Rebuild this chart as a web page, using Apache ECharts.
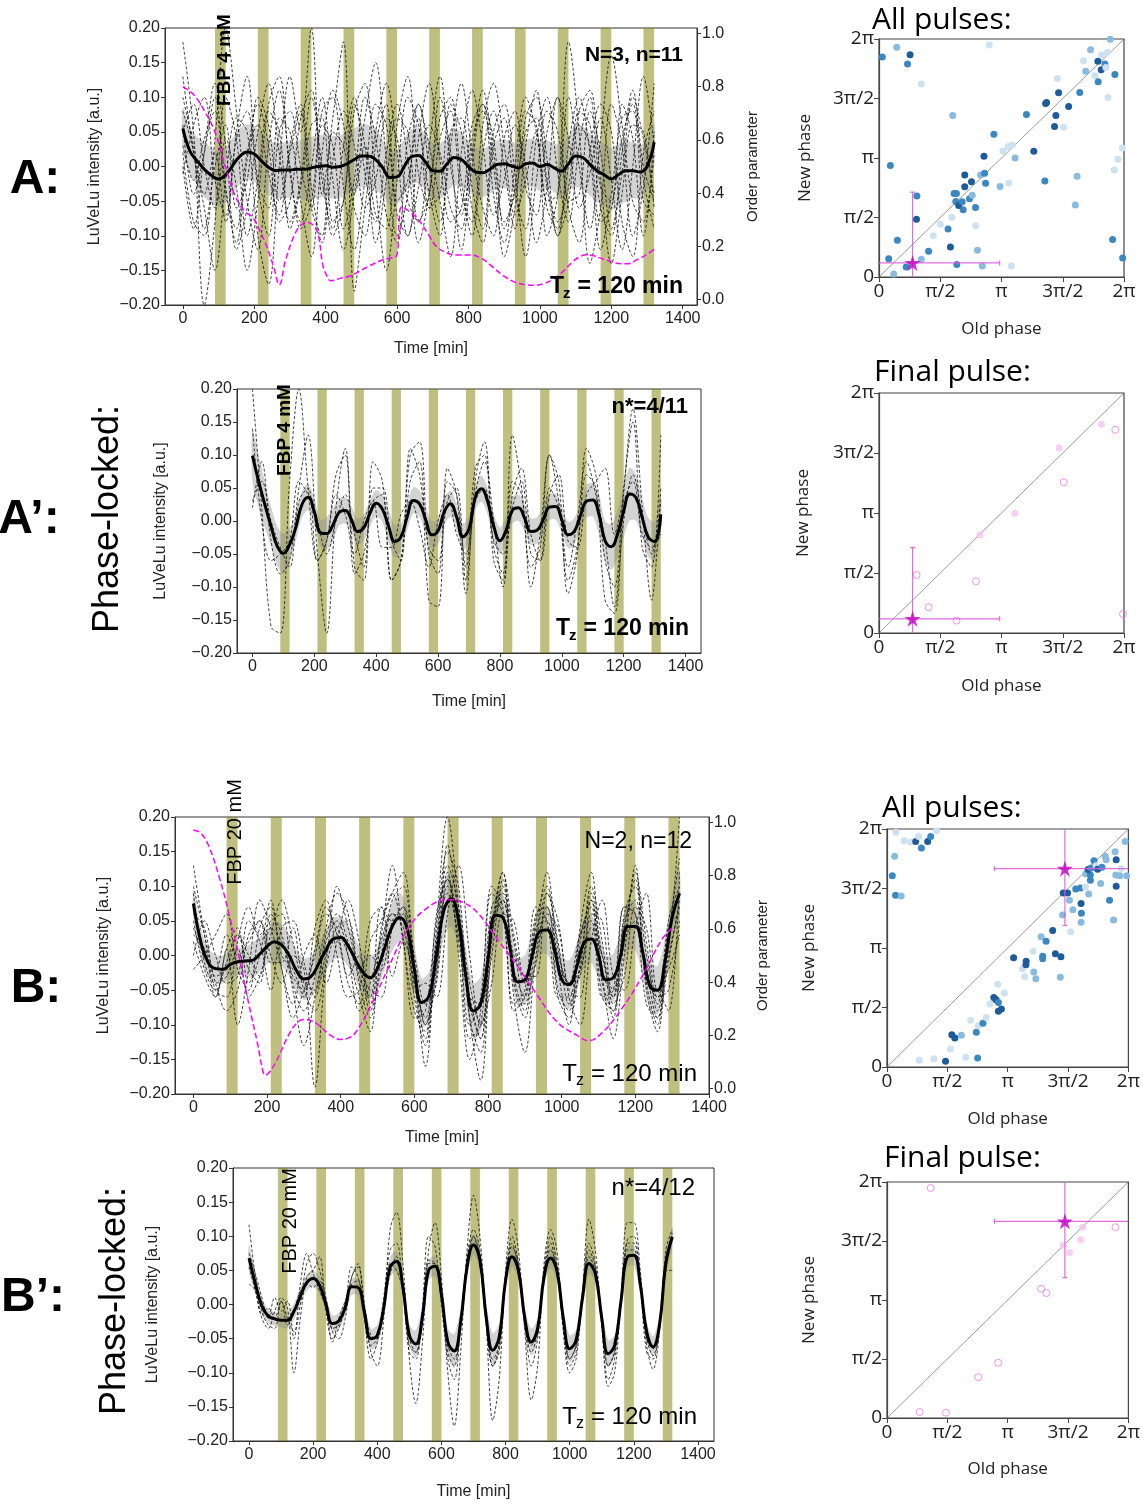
<!DOCTYPE html>
<html><head><meta charset="utf-8">
<script src="https://cdn.jsdelivr.net/npm/echarts@6/dist/echarts.min.js"></script>
<style>html,body{margin:0;padding:0;background:#fff}#c{width:1143px;height:1505px}</style>
</head><body><div id="c"></div>
<script>
// ---------------- DATA ----------------
const T20 = [0,20,40,60,80,100,120,140,160,180,
  200,220,240,260,280,300,320,340,360,380,
  400,420,440,460,480,500,520,540,560,580,
  600,620,640,660,680,700,720,740,760,780,
  800,820,840,860,880,900,920,940,960,980,
  1000,1020,1040,1060,1080,1100,1120,1140,1160,1180,
  1200,1220,1240,1260,1280,1300,1320];
const T30 = [0,30,60,90,120,150,180,210,240,270,
  300,330,360,390,420,450,480,510,540,570,
  600,630,660,690,720,750,780,810,840,870,
  900,930,960,990,1020,1050,1080,1110,1140,1170,
  1200,1230,1260,1290,1320];
const pulseStarts = [90,210,330,450,570,690,810,930,1050,1170,1290];
const pulseWidth = 30;
const xTicks = [0,200,400,600,800,1000,1200,1400];
const orderTicks = [0,0.2,0.4,0.6,0.8,1.0];
const phaseTickLabels = ['0','π/2','π','3π/2','2π'];

// Panel A
const meanA = [0.055,0.022,0.008,-0.004,-0.013,-0.018,-0.012,0.002,0.015,0.021,
  0.018,0.008,-0.001,-0.006,-0.005,-0.005,-0.004,-0.004,-0.002,0.000,
  0.001,-0.001,0.000,0.004,0.010,0.015,0.015,0.010,-0.002,-0.016,
  -0.015,0.000,0.014,0.016,0.006,-0.006,-0.007,0.004,0.013,0.010,
  0.000,-0.008,-0.009,-0.004,0.003,0.004,0.001,-0.002,0.004,0.005,
  0.000,0.003,-0.002,-0.007,0.004,0.015,0.013,0.003,-0.006,-0.012,
  -0.018,-0.012,-0.006,-0.006,-0.008,0.000,0.035];
const sdA = [0.030,0.032,0.035,0.040,0.040,0.040,0.040,0.040,0.040,0.040,
  0.040,0.040,0.040,0.040,0.040,0.040,0.040,0.045,0.045,0.045,
  0.045,0.045,0.045,0.045,0.045,0.045,0.045,0.045,0.040,0.040,
  0.040,0.040,0.040,0.040,0.040,0.040,0.040,0.040,0.040,0.040,
  0.035,0.035,0.035,0.035,0.035,0.035,0.035,0.035,0.035,0.035,
  0.035,0.035,0.035,0.040,0.040,0.045,0.045,0.045,0.045,0.045,
  0.045,0.045,0.045,0.040,0.040,0.035,0.030];
const orderA = [[0,0.80],[30,0.77],[60,0.71],[90,0.63],[110,0.54],[125,0.475],[150,0.38],[175,0.33],[195,0.31],[215,0.26],[235,0.20],[255,0.12],[270,0.056],[288,0.15],[315,0.25],[335,0.285],[351,0.29],[368,0.275],[380,0.24],[392,0.13],[405,0.085],[414,0.071],[440,0.08],[470,0.09],[520,0.125],[560,0.15],[600,0.17],[606,0.30],[613,0.348],[635,0.33],[660,0.30],[690,0.24],[710,0.20],[740,0.175],[770,0.168],[805,0.168],[840,0.152],[870,0.12],[900,0.088],[930,0.066],[960,0.056],[985,0.054],[1010,0.06],[1035,0.075],[1060,0.10],[1090,0.14],[1110,0.16],[1130,0.169],[1150,0.165],[1170,0.156],[1195,0.145],[1215,0.137],[1245,0.135],[1275,0.152],[1300,0.17],[1320,0.19]];
const trA1 = [0.18,0.05,-0.20,-0.08,0.10,0.04,-0.10,-0.02,0.08,0.05,
  -0.09,-0.03,0.06,0.07,-0.08,-0.05,0.09,0.03,-0.11,-0.02,
  0.07,0.05,-0.08,-0.04,0.10,0.02,-0.12,0.00,0.09,0.04,
  -0.09,-0.03,0.08,0.06,-0.10,-0.04,0.18,0.05,-0.14,-0.06,
  0.09,0.03,-0.10,-0.03,0.12];
const trA2 = [0.02,-0.08,-0.10,0.04,0.20,0.08,-0.05,-0.12,0.03,0.11,
  0.00,-0.09,-0.05,0.08,0.10,-0.03,-0.12,-0.02,0.09,0.06,
  -0.07,-0.10,0.04,0.12,0.01,-0.08,-0.06,0.06,0.09,-0.04,
  -0.11,0.00,0.10,0.05,-0.06,-0.09,0.03,0.10,0.02,-0.12,
  -0.04,0.07,0.08,-0.05,-0.07];
const trA3 = [0.13,0.02,-0.06,-0.15,-0.02,0.07,0.05,-0.10,-0.17,0.00,
  0.13,0.05,0.20,-0.04,0.07,0.18,-0.18,-0.06,0.05,0.12,
  0.02,-0.10,-0.03,0.06,0.02,-0.06,-0.09,0.04,0.08,0.00,
  -0.13,-0.06,0.07,0.10,0.01,-0.10,-0.05,0.08,0.11,-0.02,
  -0.14,-0.04,0.06,0.05,-0.06];
const trA4 = [0.05,0.09,0.00,-0.06,0.04,-0.03,-0.15,-0.05,0.09,0.13,
  -0.01,-0.08,0.00,0.10,-0.02,-0.12,-0.04,0.07,0.15,0.01,
  -0.10,-0.04,0.09,0.03,-0.05,-0.13,0.02,0.11,0.03,-0.07,
  -0.02,0.06,0.00,-0.11,-0.03,0.10,0.04,-0.06,-0.01,0.07,
  -0.02,-0.12,0.00,0.13,0.03];
const trA5 = [0.03,-0.02,0.04,0.08,-0.04,-0.09,0.02,0.06,-0.01,-0.07,
  0.03,0.09,-0.03,-0.11,0.01,0.08,0.03,-0.06,-0.02,0.07,
  0.04,-0.05,-0.08,0.03,0.13,0.00,-0.07,0.02,0.11,0.02,
  -0.08,-0.04,0.05,0.07,-0.03,-0.10,0.00,0.06,0.03,-0.08,
  -0.06,0.04,0.09,-0.02,-0.09];
const trA6 = [0.00,-0.09,0.02,0.12,0.03,-0.12,-0.06,0.05,0.12,0.02,
  -0.08,-0.02,0.10,0.00,-0.10,-0.05,0.08,0.12,-0.03,-0.15,
  -0.02,0.10,0.06,-0.04,-0.10,0.05,0.07,-0.03,-0.09,0.05,
  0.09,-0.01,-0.13,-0.02,0.08,0.05,-0.06,-0.11,0.02,0.09,
  0.05,-0.08,-0.13,0.02,0.08];
const trA7 = [0.10,0.03,-0.04,0.02,-0.08,0.05,0.13,-0.02,-0.06,0.07,
  0.05,-0.05,-0.13,0.02,0.11,0.06,-0.04,0.03,-0.07,-0.09,
  0.06,0.13,-0.01,-0.06,0.04,0.08,-0.04,-0.08,0.06,0.12,
  0.03,-0.07,-0.02,0.05,-0.05,-0.04,0.10,0.00,-0.09,0.04,
  0.16,0.06,-0.05,-0.08,0.05];
const trA8 = [0.06,-0.04,0.02,0.10,-0.03,-0.11,0.01,0.09,0.03,-0.08,
  -0.05,0.07,0.11,-0.02,-0.09,0.03,0.10,-0.01,-0.08,0.02,
  0.09,0.01,-0.11,-0.04,0.07,0.10,-0.02,-0.10,0.02,0.08,
  0.00,-0.09,0.03,0.11,-0.02,-0.08,-0.03,0.08,0.06,-0.06,
  -0.10,0.02,0.11,0.00,-0.05];
const trA9 = [-0.01,0.06,0.10,-0.02,-0.07,0.04,0.08,-0.03,-0.10,0.05,
  0.08,0.00,-0.06,0.06,0.03,-0.09,-0.02,0.10,0.04,-0.07,
  -0.11,0.04,0.09,0.00,-0.08,0.03,0.12,0.02,-0.06,-0.10,
  0.04,0.08,-0.03,-0.07,0.05,0.10,-0.05,-0.04,0.08,0.02,
  -0.09,-0.01,0.10,0.04,-0.04];
const trA10 = [0.08,0.02,-0.09,0.00,0.06,-0.06,-0.02,0.10,0.06,-0.05,
  0.02,0.08,-0.06,-0.10,0.05,0.03,-0.06,-0.10,0.03,0.09,
  -0.05,-0.02,0.07,-0.06,-0.04,0.09,0.05,-0.06,-0.11,0.03,
  0.07,-0.04,-0.09,0.04,0.10,-0.01,-0.08,0.03,0.10,-0.03,
  -0.05,0.09,0.04,-0.10,0.02];

// Panel A'
const meanA1 = [0.099,0.060,0.025,-0.008,-0.038,-0.049,-0.036,-0.010,0.025,0.036,
  0.014,-0.018,-0.019,-0.006,0.013,0.016,0.002,-0.016,-0.010,0.012,
  0.027,0.018,-0.008,-0.031,-0.024,0.006,0.031,0.026,0.002,-0.021,
  -0.015,0.014,0.026,0.006,-0.024,-0.012,0.035,0.049,0.030,-0.008,
  -0.030,-0.014,0.016,0.020,0.004,-0.016,-0.014,0.002,0.021,0.022,
  0.002,-0.021,-0.016,0.008,0.030,0.032,0.010,-0.030,-0.039,-0.020,
  0.015,0.041,0.035,0.005,-0.025,-0.031,0.010];
const sdA1 = [0.040,0.040,0.035,0.030,0.030,0.030,0.025,0.020,0.020,0.020,
  0.020,0.020,0.025,0.025,0.020,0.020,0.020,0.020,0.020,0.020,
  0.020,0.020,0.025,0.025,0.020,0.020,0.020,0.020,0.020,0.020,
  0.020,0.020,0.020,0.020,0.020,0.020,0.020,0.020,0.020,0.020,
  0.020,0.020,0.020,0.020,0.020,0.020,0.020,0.020,0.020,0.020,
  0.020,0.020,0.020,0.020,0.025,0.025,0.030,0.030,0.035,0.035,
  0.040,0.040,0.035,0.030,0.030,0.030,0.030];
const trP1 = [0.20,0.02,-0.16,-0.17,0.06,0.20,0.05,-0.06,-0.03,0.07,
  0.10,-0.08,-0.05,0.03,0.04,-0.09,-0.06,0.10,0.12,-0.05,
  -0.08,0.06,0.04,-0.07,0.08,0.10,-0.06,-0.09,0.06,0.04,
  -0.10,-0.02,0.10,0.03,-0.09,-0.04,0.07,0.05,-0.12,-0.14,
  0.04,0.17,0.02,-0.12,0.05];
const trP2 = [0.02,0.09,-0.03,-0.08,-0.06,0.05,0.13,-0.05,-0.17,0.02,
  0.11,-0.07,-0.09,0.09,0.06,-0.09,-0.06,0.06,0.09,-0.12,
  -0.13,0.08,0.04,-0.11,0.06,0.12,-0.04,-0.08,0.13,0.05,
  -0.07,-0.04,0.10,0.06,-0.11,-0.05,0.11,0.07,-0.06,-0.10,
  0.05,0.15,-0.04,-0.07,0.13];
const trP3 = [0.14,0.00,-0.06,-0.05,-0.03,0.06,0.04,0.00,-0.05,0.00,
  0.04,-0.02,-0.07,0.05,0.05,-0.03,-0.06,0.11,0.07,-0.04,
  -0.06,0.03,0.05,-0.09,0.04,0.09,0.00,-0.10,0.04,0.08,
  -0.02,-0.06,0.05,0.02,-0.07,0.00,0.09,0.04,-0.03,-0.13,
  0.00,0.07,0.01,-0.05,0.03];
const trP4 = [0.03,0.06,0.00,-0.04,-0.07,0.03,0.05,-0.06,-0.03,0.04,
  0.01,-0.05,0.00,0.03,-0.04,-0.04,0.01,0.03,-0.01,-0.07,
  0.00,0.04,-0.02,-0.05,0.03,0.05,-0.03,-0.05,0.02,0.06,
  -0.05,-0.06,0.04,0.07,-0.03,-0.04,0.04,0.06,0.08,-0.02,
  0.03,0.06,-0.02,-0.04,-0.02];

// Panel B
const meanB = [0.075,0.020,-0.010,-0.019,-0.020,-0.013,-0.009,-0.008,-0.007,0.002,
  0.013,0.020,0.015,0.000,-0.022,-0.034,-0.030,-0.012,0.008,0.024,
  0.026,0.014,-0.006,-0.024,-0.032,-0.018,0.012,0.042,0.055,0.040,
  -0.020,-0.068,-0.058,0.000,0.065,0.082,0.050,-0.030,-0.080,-0.070,
  -0.005,0.058,0.055,0.010,-0.038,-0.035,0.000,0.035,0.037,0.010,
  -0.035,-0.042,-0.018,0.018,0.024,0.000,-0.035,-0.032,0.000,0.042,
  0.042,0.005,-0.045,-0.050,-0.010,0.055,0.090];
const sdB = [0.020,0.020,0.020,0.020,0.020,0.020,0.020,0.020,0.025,0.025,
  0.025,0.030,0.030,0.030,0.030,0.030,0.030,0.030,0.030,0.030,
  0.030,0.030,0.030,0.030,0.030,0.030,0.030,0.035,0.035,0.035,
  0.035,0.035,0.035,0.035,0.040,0.040,0.040,0.040,0.040,0.040,
  0.040,0.035,0.035,0.035,0.035,0.035,0.035,0.035,0.035,0.035,
  0.035,0.035,0.035,0.035,0.035,0.035,0.035,0.035,0.035,0.035,
  0.035,0.035,0.035,0.035,0.035,0.035,0.035];
const orderB = [[0,0.97],[20,0.96],[42,0.91],[69,0.80],[96,0.66],[123,0.50],[150,0.32],[174,0.17],[188,0.07],[195,0.05],[205,0.06],[224,0.10],[258,0.20],[280,0.245],[299,0.26],[320,0.255],[339,0.24],[373,0.20],[400,0.185],[420,0.19],[440,0.21],[481,0.31],[528,0.45],[582,0.60],[636,0.68],[691,0.71],[731,0.70],[772,0.66],[826,0.56],[880,0.46],[934,0.35],[988,0.25],[1042,0.20],[1072,0.18],[1110,0.21],[1163,0.30],[1218,0.42],[1272,0.56],[1305,0.61]];
const trB1 = [0.13,0.03,-0.05,-0.06,0.02,0.07,0.03,0.05,0.06,-0.04,
  -0.08,-0.03,0.04,0.09,0.06,-0.04,-0.09,0.00,0.08,0.10,
  -0.03,-0.12,0.02,0.15,0.10,-0.09,-0.14,0.04,0.12,-0.03,
  -0.08,0.05,0.10,-0.02,-0.10,0.02,0.08,-0.04,-0.08,0.06,
  0.10,-0.05,-0.11,0.03,0.14];
const trB2 = [0.02,-0.03,-0.06,0.01,-0.10,-0.02,0.08,0.04,-0.02,-0.09,
  -0.05,0.00,0.06,0.04,0.00,-0.06,-0.11,0.04,0.09,0.12,
  -0.01,-0.10,-0.03,0.16,0.05,-0.12,-0.10,0.07,0.09,-0.02,
  -0.06,0.06,0.07,-0.05,-0.08,0.04,0.12,-0.02,-0.06,0.07,
  0.06,-0.07,-0.09,0.05,0.10];
const trB3 = [0.06,0.04,-0.03,-0.02,0.03,-0.02,-0.04,0.06,0.03,-0.05,
  -0.13,-0.06,0.02,0.05,0.00,-0.08,-0.04,0.03,0.13,0.02,
  -0.08,-0.11,0.06,0.11,0.00,-0.15,-0.08,0.10,0.07,-0.08,
  -0.06,0.04,0.05,-0.06,-0.09,-0.01,0.09,0.00,-0.06,0.04,
  0.11,0.00,-0.07,0.04,0.06];
const trB4 = [-0.02,0.00,0.03,0.06,-0.02,-0.05,0.04,0.07,0.00,-0.02,
  -0.06,0.04,0.08,0.00,-0.06,-0.05,0.05,0.07,-0.03,0.02,
  -0.04,-0.16,0.04,0.20,0.07,-0.09,-0.18,0.02,0.12,0.03,
  -0.04,0.03,0.12,0.01,-0.04,-0.03,0.08,-0.03,-0.12,0.00,
  0.13,-0.04,-0.05,-0.08,0.12];
const trB5 = [0.09,-0.01,-0.04,-0.03,0.01,-0.06,-0.03,0.03,0.08,0.02,
  -0.05,-0.08,-0.01,0.10,0.04,-0.02,-0.05,-0.06,0.04,0.07,
  0.00,-0.07,-0.04,0.12,0.02,-0.06,-0.07,0.03,0.11,-0.06,
  -0.14,0.00,0.07,0.00,-0.04,0.03,0.05,-0.06,-0.05,0.07,
  0.06,-0.02,-0.09,-0.01,0.08];
const trB6 = [0.04,0.00,-0.02,0.03,0.00,0.02,0.05,0.00,-0.04,0.00,
  -0.02,-0.19,-0.02,0.03,-0.03,0.00,-0.07,0.02,0.06,0.04,
  -0.04,-0.09,0.02,0.09,0.03,-0.06,-0.12,0.03,0.08,0.00,
  -0.03,0.02,0.04,-0.01,-0.04,-0.02,0.04,0.00,-0.05,0.02,
  0.05,-0.02,-0.06,0.01,0.20];
const trB7 = [0.10,0.03,-0.04,-0.08,-0.05,0.03,0.05,-0.01,-0.01,0.04,
  -0.04,-0.05,0.03,0.06,0.02,-0.02,0.00,-0.02,0.05,0.07,
  -0.05,-0.04,-0.06,0.06,0.13,0.00,-0.10,-0.04,0.06,0.05,
  -0.03,-0.03,0.09,0.05,-0.06,-0.10,0.02,0.08,-0.03,-0.05,
  0.04,0.09,-0.05,-0.02,0.03];
const trB8 = [0.05,-0.02,-0.05,-0.01,0.03,0.00,-0.03,0.04,0.02,-0.03,
  -0.05,0.01,0.07,0.03,-0.04,-0.07,0.02,0.05,0.09,0.02,
  -0.09,-0.08,0.05,0.11,0.04,-0.10,-0.06,0.09,0.06,-0.07,
  -0.05,0.07,0.05,-0.06,-0.06,0.03,0.07,-0.06,-0.08,0.05,
  0.08,-0.04,-0.10,0.03,0.09];
const trB9 = [0.00,0.05,0.00,-0.04,-0.03,0.05,0.02,-0.05,0.04,0.05,
  -0.01,-0.06,0.00,0.04,0.05,-0.03,-0.06,0.07,0.05,0.06,
  -0.06,-0.13,0.01,0.13,0.07,-0.07,-0.12,0.05,0.08,-0.04,
  -0.09,0.02,0.09,0.02,-0.07,-0.02,0.10,0.02,-0.09,0.02,
  0.12,0.02,-0.08,0.00,0.07];
const trB10 = [0.03,0.01,-0.06,0.01,0.04,-0.04,0.00,0.08,-0.02,-0.07,
  0.00,0.03,-0.04,0.02,0.08,0.02,-0.08,-0.02,0.06,0.05,
  -0.02,-0.10,-0.02,0.10,0.06,-0.04,-0.10,0.00,0.10,0.02,
  -0.07,-0.01,0.06,0.04,-0.05,-0.06,0.06,0.05,-0.07,-0.03,
  0.07,0.04,-0.06,-0.05,0.05];

// Panel B'
const meanB1 = [0.068,0.030,-0.002,-0.017,-0.021,-0.023,-0.023,-0.010,0.012,0.032,
  0.038,0.028,0.000,-0.028,-0.024,-0.004,0.026,0.025,-0.012,-0.050,
  -0.045,-0.005,0.055,0.063,0.025,-0.045,-0.058,-0.020,0.050,0.056,
  0.015,-0.055,-0.068,-0.025,0.055,0.087,0.065,-0.020,-0.067,-0.048,
  0.035,0.070,0.050,-0.020,-0.055,-0.035,0.040,0.068,0.050,-0.020,
  -0.065,-0.052,0.010,0.060,0.045,-0.020,-0.072,-0.060,0.005,0.070,
  0.072,0.030,-0.040,-0.062,-0.030,0.060,0.099];
const sdB1 = [0.020,0.015,0.012,0.010,0.010,0.010,0.012,0.012,0.012,0.012,
  0.012,0.012,0.012,0.012,0.012,0.012,0.012,0.012,0.012,0.015,
  0.015,0.015,0.015,0.015,0.015,0.015,0.020,0.020,0.015,0.015,
  0.015,0.020,0.025,0.020,0.015,0.015,0.015,0.020,0.025,0.020,
  0.015,0.015,0.015,0.015,0.020,0.015,0.015,0.015,0.015,0.015,
  0.020,0.015,0.015,0.015,0.015,0.015,0.020,0.015,0.015,0.015,
  0.015,0.015,0.015,0.015,0.015,0.015,0.015];
const trQ1 = [0.117,0.040,-0.010,-0.030,-0.035,0.005,-0.020,-0.040,0.000,0.060,
  0.075,0.050,0.010,-0.040,-0.050,-0.020,0.040,0.055,0.000,-0.070,
  -0.090,-0.020,0.110,0.135,0.060,-0.080,-0.145,-0.060,0.080,0.120,
  0.040,-0.100,-0.178,-0.070,0.080,0.160,0.100,-0.030,-0.170,-0.110,
  0.050,0.125,0.080,-0.040,-0.140,-0.090,0.060,0.110,0.080,-0.040,
  -0.100,-0.080,0.020,0.125,0.080,-0.030,-0.120,-0.100,0.010,0.120,
  0.120,0.050,-0.060,-0.095,-0.040,0.080,0.110];
const trQ2 = [0.030,0.020,-0.020,-0.035,-0.010,0.010,-0.005,-0.100,-0.020,0.040,
  0.050,0.070,-0.010,-0.050,-0.035,0.000,0.040,0.060,-0.020,-0.080,
  -0.055,0.010,0.080,0.090,0.020,-0.070,-0.080,-0.010,0.100,0.085,
  0.000,-0.080,-0.110,-0.030,0.070,0.110,0.080,-0.030,-0.090,-0.070,
  0.040,0.100,0.060,-0.030,-0.090,-0.050,0.050,0.100,0.060,-0.030,
  -0.090,-0.070,0.020,0.090,0.060,-0.030,-0.110,-0.080,0.010,0.095,
  0.100,0.030,-0.070,-0.080,-0.030,0.070,0.100];
const trQ3 = [0.075,0.045,0.010,-0.020,0.010,-0.010,0.005,-0.050,0.030,0.075,
  0.045,0.020,-0.005,-0.055,-0.020,0.005,0.030,0.035,-0.020,-0.060,
  -0.050,0.000,0.045,0.070,0.020,-0.060,-0.070,-0.030,0.060,0.060,
  0.020,-0.070,-0.090,-0.030,0.050,0.100,0.060,-0.030,-0.090,-0.060,
  0.040,0.090,0.050,-0.030,-0.070,-0.040,0.040,0.090,0.050,-0.030,
  -0.080,-0.060,0.010,0.080,0.055,-0.020,-0.090,-0.070,0.000,0.090,
  0.090,0.030,-0.050,-0.075,-0.030,0.060,0.105];
const trQ4 = [0.055,0.020,-0.015,-0.005,-0.020,0.005,-0.030,-0.010,0.020,0.030,
  0.025,0.035,0.005,-0.035,-0.030,-0.005,0.055,0.040,-0.005,-0.045,
  -0.050,0.000,0.060,0.050,0.020,-0.050,-0.070,-0.020,0.065,0.060,
  0.010,-0.060,-0.080,-0.030,0.065,0.100,0.070,-0.020,-0.080,-0.060,
  0.030,0.085,0.060,-0.020,-0.060,-0.040,0.050,0.080,0.050,-0.020,
  -0.080,-0.060,0.010,0.070,0.050,-0.020,-0.090,-0.070,0.010,0.080,
  0.080,0.030,-0.050,-0.065,-0.030,0.050,0.050];

// Phase response (units of π): [oldPhase, newPhase, shade 0=dark..3=very light]
const allPulsesA = [
  [0.027,1.848,1],[0.145,1.930,2],[0.254,1.868,0],[0.233,1.789,1],[0.345,1.621,3],[0.900,1.949,3],[0.602,1.357,2],[0.093,0.938,1],[0.309,0.680,1],[0.306,0.486,0],
  [0.150,0.309,1],[0.079,0.154,1],[0.120,0.025,2],[0.222,0.084,1],[0.345,0.149,2],[0.405,0.216,1],[0.443,0.346,3],[0.501,0.444,3],[0.564,0.404,1],[0.583,0.253,0],
  [0.596,0.500,3],[0.635,0.104,1],[0.613,0.702,1],[0.632,0.702,1],[0.627,0.635,1],[0.651,0.601,0],[0.679,0.632,1],[0.687,0.565,1],[0.700,0.758,0],[0.700,0.857,0],
  [0.755,0.801,0],[0.739,0.657,1],[0.761,0.688,2],[0.788,0.584,1],[0.790,0.430,3],[0.804,0.225,2],[0.843,0.093,2],[0.829,0.857,2],[0.862,0.871,1],[0.870,0.787,1],
  [0.857,1.014,0],[0.938,1.199,1],[0.988,0.761,2],[1.012,1.059,3],[1.056,1.096,3],[1.089,1.110,3],[1.111,1.000,2],[1.059,0.789,3],[1.081,0.093,3],[1.204,1.365,1],
  [1.264,1.056,0],[1.354,0.806,1],[1.360,1.458,0],[1.368,1.466,0],[1.444,1.357,0],[1.433,1.264,0],[1.466,1.548,0],[1.507,1.258,3],[1.548,1.433,0],[1.455,1.669,3],
  [1.617,0.846,2],[1.603,0.604,2],[1.639,1.551,1],[1.669,1.817,3],[1.688,1.728,2],[1.727,1.910,2],[1.762,1.691,3],[1.787,1.812,0],[1.789,1.640,1],[1.814,1.742,0],
  [1.817,1.865,3],[1.844,1.789,1],[1.852,1.761,3],[1.863,1.888,3],[1.869,1.508,3],[1.888,1.997,2],[1.926,1.702,1],[1.907,0.315,1],[1.951,0.989,3],[1.921,0.899,3],
  [1.986,1.084,3],[1.989,0.160,1]];
const allPulsesB = [
  [0.074,1.972,3],[0.142,1.902,3],[0.197,1.891,3],[0.238,1.896,0],[0.263,1.938,3],[0.285,1.840,1],[0.337,1.896,0],[0.362,1.938,1],[0.411,1.986,3],[0.063,1.770,2],
  [0.044,1.608,1],[0.071,1.443,1],[0.118,1.437,2],[0.268,0.056,3],[0.389,0.070,3],[0.485,0.048,0],[0.526,0.151,3],[0.537,0.272,0],[0.562,0.244,0],[0.616,0.266,2],
  [0.652,0.081,3],[0.693,0.392,3],[0.740,0.291,1],[0.751,0.076,1],[0.756,0.347,3],[0.795,0.367,1],[0.822,0.417,3],[0.855,0.529,3],[0.885,0.585,0],[0.904,0.566,0],
  [0.918,0.695,3],[0.923,0.543,1],[0.923,0.468,0],[0.948,0.487,0],[0.973,0.622,3],[1.049,0.919,0],[1.121,0.826,3],[1.142,0.759,3],[1.151,0.860,0],[1.153,0.888,0],
  [1.211,0.972,3],[1.216,0.798,2],[1.233,0.742,2],[1.277,1.095,2],[1.290,0.910,1],[1.290,0.930,1],[1.318,1.056,1],[1.373,1.148,0],[1.395,0.952,0],[1.436,0.754,2],
  [1.441,0.927,0],[1.455,1.277,2],[1.460,1.462,0],[1.496,1.462,0],[1.512,1.401,2],[1.521,1.137,3],[1.540,1.322,2],[1.564,1.496,1],[1.603,1.504,1],[1.608,1.373,0],
  [1.611,1.291,1],[1.608,1.216,2],[1.644,1.513,3],[1.671,1.454,2],[1.647,1.625,2],[1.685,1.613,1],[1.685,1.569,1],[1.666,1.659,0],[1.690,1.672,1],[1.715,1.734,1],
  [1.732,1.692,3],[1.745,1.661,0],[1.770,1.543,2],[1.781,1.678,1],[1.808,1.770,2],[1.816,1.742,2],[1.844,1.401,1],[1.877,1.235,2],[1.890,1.809,2],[1.899,1.742,0],
  [1.899,1.518,0],[1.896,1.613,2],[1.929,1.608,2],[1.940,1.669,3],[1.973,1.896,2],[1.986,1.608,2]];
// [oldPhase, newPhase, filled 1 / open 0]
const finalPulseA = [[1.815,1.739,1],[1.929,1.694,0],[1.470,1.544,1],[1.508,1.256,0],[1.109,0.997,1],[0.823,0.819,1],[0.307,0.483,0],[0.791,0.431,0],[0.405,0.214,0],[0.633,0.103,0],[1.992,0.158,0]];
const finalPulseB = [[0.362,1.949,0],[1.622,1.617,1],[1.893,1.617,0],[1.605,1.510,1],[1.460,1.465,1],[1.512,1.403,1],[1.277,1.096,0],[1.321,1.059,0],[0.921,0.468,0],[0.756,0.346,0],[0.271,0.051,0],[0.488,0.045,0]];
// mean phase star: [old, new, errOld, errNew]
const starA = [0.274,0.118,0.711,0.595];
const starB = [1.474,1.667,0.584,0.478];

// ---------------- BUILD ----------------
const shadeColors = ['#1d5b9b','#3b87c2','#88bbdd','#cde1f1'];
const grids=[], xAxes=[], yAxes=[], series=[], graphics=[];
const TXT = '#222';
const LIB = 'Liberation Sans';
const fmtY = v => Math.abs(v)<1e-9 ? '0.00' : (v<0?'\u2212':'') + Math.abs(v).toFixed(2);

function meas(t,f){const c=meas.c||(meas.c=document.createElement('canvas').getContext('2d'));c.font=f;return c.measureText(t).width;}
function txt(t,x,y,font,opt){opt=opt||{};const e={type:'text',x:x,y:y,z:100,silent:true,style:{text:t,font:font,fill:opt.fill||'#000',align:opt.align||'left',textAlign:opt.align||'left',verticalAlign:'middle',textVerticalAlign:'middle'}};if(opt.rot)e.rotation=opt.rot;return e;}
function tz(rightX,cy,font,sub){const rest='= 120 min';const w=meas(rest,font);const x1=rightX-w;const zw=meas('z',sub);const zx=x1-7-zw;const tw=meas('T',font);
  graphics.push(txt(rest,x1,cy,font),txt('z',zx,cy+7,sub),txt('T',zx-tw+1,cy,font));}

const tsPanels = [
  {left:165,top:28,w:532,h:277,xmax:1440,mean:meanA,sd:sdA,traces:[trA1,trA2,trA3,trA4,trA5,trA6,trA7,trA8,trA9,trA10],tT:T30,order:orderA,yGap:62,rGap:48,xGap:36},
  {left:237,top:389,w:464,h:264,xmax:1450,mean:meanA1,sd:sdA1,traces:[trP1,trP2,trP3,trP4],tT:T30,order:null,yGap:68,xGap:41},
  {left:175,top:817,w:534,h:277,xmax:1400,mean:meanB,sd:sdB,traces:[trB1,trB2,trB3,trB4,trB5,trB6,trB7,trB8,trB9,trB10],tT:T30,order:orderB,yGap:63,rGap:46,xGap:36},
  {left:233,top:1168,w:481,h:273,xmax:1450,mean:meanB1,sd:sdB1,traces:[trQ1,trQ2,trQ3,trQ4],tT:T20,order:null,yGap:72,xGap:43}
];
const axFont = {fontFamily:LIB,fontSize:16,color:TXT};
const nmFont = {fontFamily:LIB,fontSize:16,color:TXT};

tsPanels.forEach((p,k)=>{
  const gi=grids.length;
  grids.push({left:p.left,top:p.top,width:p.w,height:p.h,show:true,borderColor:'#333',borderWidth:1,backgroundColor:'transparent'});
  const xi=xAxes.length;
  xAxes.push({type:'value',gridIndex:gi,min:-50,max:p.xmax,name:'Time [min]',nameLocation:'middle',nameGap:p.xGap,
    nameTextStyle:nmFont,
    axisLine:{show:true,onZero:false,lineStyle:{color:'#333'}},
    axisTick:{show:true,inside:false,length:4,customValues:xTicks,lineStyle:{color:'#333'}},
    axisLabel:Object.assign({customValues:xTicks,formatter:v=>String(Math.round(v)),margin:6,showMinLabel:true,showMaxLabel:true},axFont),splitLine:{show:false}});
  const yi=yAxes.length;
  yAxes.push({type:'value',gridIndex:gi,min:-0.2,max:0.2,interval:0.05,position:'left',name:'LuVeLu intensity [a.u.]',nameLocation:'middle',nameGap:p.yGap,
    nameTextStyle:nmFont,
    axisLine:{show:true,onZero:false,lineStyle:{color:'#333'}},axisTick:{show:true,length:4,lineStyle:{color:'#333'}},
    axisLabel:Object.assign({formatter:fmtY,margin:5},axFont),splitLine:{show:false}});
  let ri=null;
  if(p.order){ri=yAxes.length;
    yAxes.push({type:'value',gridIndex:gi,min:-0.02,max:1.02,position:'right',name:'Order parameter',nameLocation:'middle',nameGap:p.rGap,
      nameTextStyle:{fontFamily:LIB,fontSize:15,color:TXT},
      axisLine:{show:true,onZero:false,lineStyle:{color:'#333'}},axisTick:{show:true,length:4,customValues:orderTicks,lineStyle:{color:'#333'}},
      axisLabel:Object.assign({customValues:orderTicks,formatter:v=>v.toFixed(1),margin:5},axFont),splitLine:{show:false}});}
  // light pulses
  series.push({type:'line',xAxisIndex:xi,yAxisIndex:yi,data:[],silent:true,z:1,symbol:'none',
    markArea:{silent:true,label:{show:false},itemStyle:{color:'rgba(128,128,0,0.5)'},
      data:pulseStarts.map(s=>[{xAxis:s},{xAxis:s+pulseWidth}])}});
  // std band (mean ± sd) as one polygon
  const mean=p.mean, sd=p.sd;
  series.push({type:'custom',xAxisIndex:xi,yAxisIndex:yi,data:[[0,0]],silent:true,z:2,clip:true,
    renderItem:(params,api)=>{
      const up=mean.map((m,i)=>api.coord([T20[i],m+sd[i]]));
      const lo=mean.map((m,i)=>api.coord([T20[i],m-sd[i]])).reverse();
      return {type:'polygon',shape:{points:up.concat(lo),smooth:0.3},style:{fill:'rgba(140,140,140,0.38)'}};
    }});
  // single traces
  p.traces.forEach(tr=>series.push({type:'line',xAxisIndex:xi,yAxisIndex:yi,data:tr.map((v,i)=>[p.tT[i],v]),symbol:'none',smooth:0.35,silent:true,z:3,
    lineStyle:{color:'#111',width:0.8,type:[3,2]}}));
  // mean
  series.push({type:'line',xAxisIndex:xi,yAxisIndex:yi,data:mean.map((v,i)=>[T20[i],v]),symbol:'none',smooth:0.45,silent:true,z:5,
    lineStyle:{color:'#000',width:3}});
  if(p.order){
    series.push({type:'line',xAxisIndex:xi,yAxisIndex:ri,data:p.order,symbol:'none',smooth:0.4,silent:true,z:6,
      lineStyle:{color:'#ff00ff',width:1.5,type:[6,3]}});
  }
});

const scPanels = [
  {left:879,top:39,w:245,h:238,kind:'all',pts:allPulsesA,star:starA,yGap:65,xGap:44},
  {left:879,top:393,w:245,h:240,kind:'final',pts:finalPulseA,star:starA,yGap:67,xGap:45},
  {left:887,top:829,w:243,h:238,kind:'all',pts:allPulsesB,star:starB,yGap:69,xGap:44},
  {left:887,top:1182,w:243,h:236,kind:'final',pts:finalPulseB,star:starB,yGap:69,xGap:43}
];
const phFont={fontFamily:'Open Sans',fontSize:19,color:TXT};
const starPath='path://M50,0 L61.2,34.5 L97.6,34.5 L68.2,55.9 L79.4,90.5 L50,69.1 L20.6,90.5 L31.8,55.9 L2.4,34.5 L38.8,34.5 Z';
scPanels.forEach(p=>{
  const gi=grids.length;
  grids.push({left:p.left,top:p.top,width:p.w,height:p.h,show:true,borderColor:'#444',borderWidth:1.2,backgroundColor:'transparent'});
  const mk=(name,gap,pos)=>({type:'value',gridIndex:gi,min:0,max:2,interval:0.5,position:pos,name:name,nameLocation:'middle',nameGap:gap,
    nameTextStyle:{fontFamily:'Open Sans',fontSize:17,color:TXT},
    axisLine:{show:true,onZero:false,lineStyle:{color:'#444',width:1.2}},axisTick:{show:true,length:5,lineStyle:{color:'#444'}},
    axisLabel:Object.assign({formatter:v=>phaseTickLabels[Math.round(v*2)],margin:5},phFont),splitLine:{show:false}});
  const xi=xAxes.length; xAxes.push(mk('Old phase',p.xGap,'bottom'));
  const yi=yAxes.length; yAxes.push(mk('New phase',p.yGap,'left'));
  series.push({type:'line',xAxisIndex:xi,yAxisIndex:yi,data:[[0,0],[2,2]],symbol:'none',silent:true,z:1,lineStyle:{color:'#555',width:0.6}});
  if(p.kind==='all'){
    series.push({type:'scatter',xAxisIndex:xi,yAxisIndex:yi,data:p.pts,symbolSize:7,silent:true,z:3,
      itemStyle:{color:q=>shadeColors[q.data[2]],opacity:1}});
  }else{
    series.push({type:'scatter',xAxisIndex:xi,yAxisIndex:yi,data:p.pts.filter(d=>d[2]===1),symbolSize:7,silent:true,z:3,
      itemStyle:{color:'#f4c3f0'}});
    series.push({type:'scatter',xAxisIndex:xi,yAxisIndex:yi,data:p.pts.filter(d=>d[2]===0),symbolSize:7,silent:true,z:3,
      itemStyle:{color:'rgba(255,255,255,0)',borderColor:'#e57be5',borderWidth:1}});
  }
  series.push({type:'custom',xAxisIndex:xi,yAxisIndex:yi,data:[p.star],silent:true,z:4,
    renderItem:(params,api)=>{
      const x=api.value(0),y=api.value(1),dx=api.value(2),dy=api.value(3);
      const cl=v=>Math.max(0,Math.min(2,v));
      const L=api.coord([cl(x-dx),y]),R=api.coord([cl(x+dx),y]),B=api.coord([x,cl(y-dy)]),T=api.coord([x,cl(y+dy)]);
      const st={stroke:'#dd5cdd',lineWidth:1.2,opacity:0.9};
      const ch=[{type:'line',shape:{x1:L[0],y1:L[1],x2:R[0],y2:R[1]},style:st},
                {type:'line',shape:{x1:B[0],y1:B[1],x2:T[0],y2:T[1]},style:st}];
      const c=2.5;
      if(x-dx>=0) ch.push({type:'line',shape:{x1:L[0],y1:L[1]-c,x2:L[0],y2:L[1]+c},style:st});
      if(x+dx<=2) ch.push({type:'line',shape:{x1:R[0],y1:R[1]-c,x2:R[0],y2:R[1]+c},style:st});
      if(y-dy>=0) ch.push({type:'line',shape:{x1:B[0]-c,y1:B[1],x2:B[0]+c,y2:B[1]},style:st});
      if(y+dy<=2) ch.push({type:'line',shape:{x1:T[0]-c,y1:T[1],x2:T[0]+c,y2:T[1]},style:st});
      return {type:'group',children:ch};
    }});
  series.push({type:'scatter',xAxisIndex:xi,yAxisIndex:yi,data:[[p.star[0],p.star[1]]],symbol:starPath,symbolSize:16,silent:true,z:5,
    itemStyle:{color:'#c000c0'}});
});

// ---------------- TEXT ----------------
const big='bold 48px "Liberation Sans"';
graphics.push(txt('A:',35,180,big,{align:'center'}));
graphics.push(txt('A\u2019:',29,520,big,{align:'center'}));
graphics.push(txt('B:',36,989,big,{align:'center'}));
graphics.push(txt('B\u2019:',33,1298,big,{align:'center'}));
graphics.push(txt('Phase-locked:',108,519,'36px "Liberation Sans"',{align:'center',rot:Math.PI/2}));
graphics.push(txt('Phase-locked:',115,1301,'36px "Liberation Sans"',{align:'center',rot:Math.PI/2}));
// panel annotations
graphics.push(txt('FBP 4 mM',225,60,'bold 19px "Liberation Sans"',{align:'center',rot:Math.PI/2}));
graphics.push(txt('FBP 4 mM',285,430,'bold 19px "Liberation Sans"',{align:'center',rot:Math.PI/2}));
graphics.push(txt('FBP 20 mM',235,832,'20px "Liberation Sans"',{align:'center',rot:Math.PI/2}));
graphics.push(txt('FBP 20 mM',290,1221,'20px "Liberation Sans"',{align:'center',rot:Math.PI/2}));
graphics.push(txt('N=3, n=11',683,55,'bold 21px "Liberation Sans"',{align:'right'}));
graphics.push(txt('n*=4/11',688,407,'bold 22px "Liberation Sans"',{align:'right'}));
graphics.push(txt('N=2, n=12',692,842,'23px "Liberation Sans"',{align:'right'}));
graphics.push(txt('n*=4/12',695,1188,'24px "Liberation Sans"',{align:'right'}));
tz(683,287,'bold 23px "Liberation Sans"','bold 15px "Liberation Sans"');
tz(689,629,'bold 23px "Liberation Sans"','bold 15px "Liberation Sans"');
tz(697,1074,'24px "Liberation Sans"','16px "Liberation Sans"');
tz(697,1417,'24px "Liberation Sans"','16px "Liberation Sans"');
// scatter titles
graphics.push(txt('All pulses:',872,20,'30px "Open Sans"'));
graphics.push(txt('Final pulse:',874,372,'30px "Open Sans"'));
graphics.push(txt('All pulses:',882,808,'30px "Open Sans"'));
graphics.push(txt('Final pulse:',884,1158,'30px "Open Sans"'));

const chart=echarts.init(document.getElementById('c'),null,{renderer:'canvas'});
chart.setOption({animation:false,backgroundColor:'#fff',grid:grids,xAxis:xAxes,yAxis:yAxes,series:series,graphic:{elements:graphics}});
</script></body></html>
